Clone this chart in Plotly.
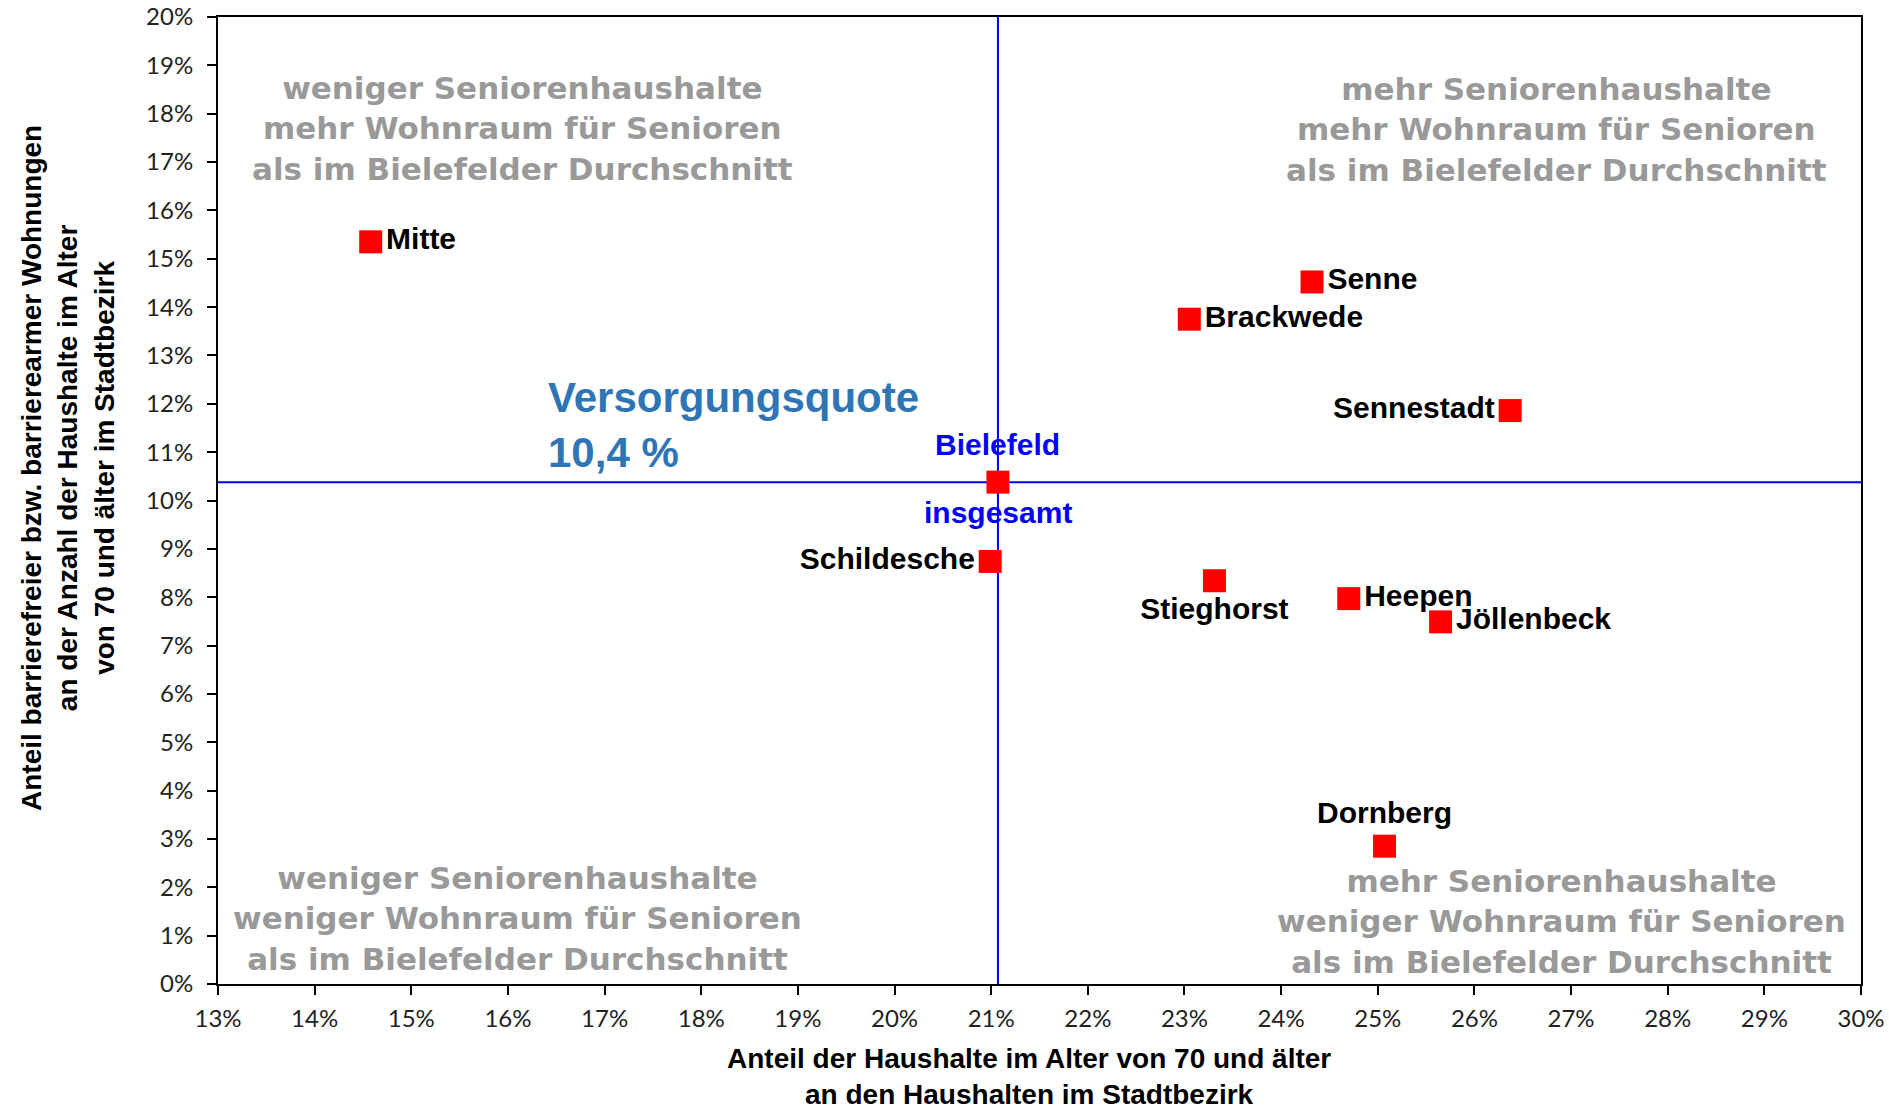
import plotly.graph_objects as go

# Data
districts = ["Mitte", "Senne", "Brackwede", "Sennestadt", "Schildesche",
             "Stieghorst", "Heepen", "Jöllenbeck", "Dornberg"]
share_70plus = [14.58, 24.32, 23.05, 26.37, 20.99, 23.31, 24.70, 25.65, 25.07]
share_barrier_free = [15.35, 14.52, 13.75, 11.86, 8.74, 8.34, 7.97, 7.49, 2.85]
label_pos = ["middle right", "middle right", "middle right", "middle left", "middle left",
             "bottom center", "middle right", "middle right", "top center"]

total_name = ["Bielefeld", "insgesamt"]
total_x = [21.07]
total_y = [10.38]

x_ticks = list(range(13, 31))
y_ticks = list(range(0, 21))

x_title = ["Anteil der Haushalte im Alter von 70 und älter", "an den Haushalten im Stadtbezirk"]
y_title = ["Anteil barrierefreier bzw. barrierearmer Wohnungen",
           "an der Anzahl der Haushalte im Alter", "von 70 und älter im Stadtbezirk"]

fig = go.Figure()

# average lines
fig.add_trace(go.Scatter(x=[13, 30], y=[total_y[0], total_y[0]], mode="lines",
                         line=dict(color="#0000FF", width=2), hoverinfo="skip", showlegend=False))
fig.add_trace(go.Scatter(x=[total_x[0], total_x[0]], y=[0, 20], mode="lines",
                         line=dict(color="#0000FF", width=2), hoverinfo="skip", showlegend=False))

arial = "Liberation Sans, Arial, sans-serif"
label_font = dict(family=arial, size=30, color="black")

fig.add_trace(go.Scatter(
    x=share_70plus, y=share_barrier_free, mode="markers+text",
    text=["<b>%s</b>" % d for d in districts], textposition=label_pos,
    textfont=label_font,
    marker=dict(symbol="square", size=23, color="#FF0000"),
    showlegend=False))

# total point
fig.add_trace(go.Scatter(
    x=total_x, y=total_y, mode="markers",
    marker=dict(symbol="square", size=23, color="#FF0000"),
    showlegend=False))
fig.add_annotation(x=total_x[0], y=total_y[0], yshift=38, showarrow=False,
                   text="<b>%s</b>" % total_name[0], font=dict(family=arial, size=30, color="#0000FF"))
fig.add_annotation(x=total_x[0], y=total_y[0], yshift=-30, showarrow=False,
                   text="<b>%s</b>" % total_name[1], font=dict(family=arial, size=30, color="#0000FF"))

quad_font = dict(family="DejaVu Sans, sans-serif", size=31, color="#999999")
quad = [
    (16.15, 17.69, "weniger Seniorenhaushalte<br>mehr Wohnraum für Senioren<br>als im Bielefelder Durchschnitt"),
    (26.85, 17.67, "mehr Seniorenhaushalte<br>mehr Wohnraum für Senioren<br>als im Bielefelder Durchschnitt"),
    (16.10, 1.36, "weniger Seniorenhaushalte<br>weniger Wohnraum für Senioren<br>als im Bielefelder Durchschnitt"),
    (26.90, 1.30, "mehr Seniorenhaushalte<br>weniger Wohnraum für Senioren<br>als im Bielefelder Durchschnitt"),
]
for qx, qy, qt in quad:
    fig.add_annotation(x=qx, y=qy, text="<b>%s</b>" % qt.replace("<br>", "</b><br><b>"),
                       showarrow=False, font=quad_font, align="center")

fig.add_annotation(x=16.39, y=11.56, xanchor="left", align="left", showarrow=False,
                   text="<b>Versorgungsquote</b><br><b>10,4 %</b>",
                   font=dict(family=arial, size=42, color="#2E75B6"))

title_font = dict(family=arial, size=28, color="black")
tick_font = dict(family="Lato, sans-serif", size=24, color="#222")

# axis titles
fig.add_annotation(xref="paper", yref="paper", x=0.4936, y=-0.0955, xanchor="center", yanchor="middle",
                   showarrow=False, text="<br>".join("<b>%s</b>" % t for t in x_title),
                   font=title_font, align="center")
fig.add_annotation(xref="paper", yref="paper", x=-0.0913, y=0.5336, xanchor="center", yanchor="middle",
                   showarrow=False, textangle=-90,
                   text="<br>".join("<b>%s</b>" % t for t in y_title), font=title_font, align="center")

fig.update_xaxes(range=[13, 30], tickvals=x_ticks, ticktext=["%d%%" % v for v in x_ticks],
                 showgrid=False, zeroline=False, showline=True, linecolor="black", linewidth=2,
                 mirror=True, ticks="outside", ticklen=9, tickwidth=1.5, tickcolor="black",
                 tickfont=tick_font, automargin=False, ticklabelstandoff=3,
                 ticklabeloverflow="allow")
fig.update_yaxes(range=[0, 20], tickvals=y_ticks, ticktext=["%d%%" % v for v in y_ticks],
                 showgrid=False, zeroline=False, showline=True, linecolor="black", linewidth=2,
                 mirror=True, ticks="outside", ticklen=9, tickwidth=1.5, tickcolor="black",
                 tickfont=tick_font, automargin=False, ticklabelstandoff=9,
                 ticklabeloverflow="allow")

fig.update_layout(width=1889, height=1114, plot_bgcolor="white", paper_bgcolor="white",
                  margin=dict(l=218, r=28, t=17, b=130, autoexpand=False))

fig.write_html("out.html", config={"displayModeBar": False},
               post_script="document.body.style.margin='0';document.body.style.overflow='hidden';")
